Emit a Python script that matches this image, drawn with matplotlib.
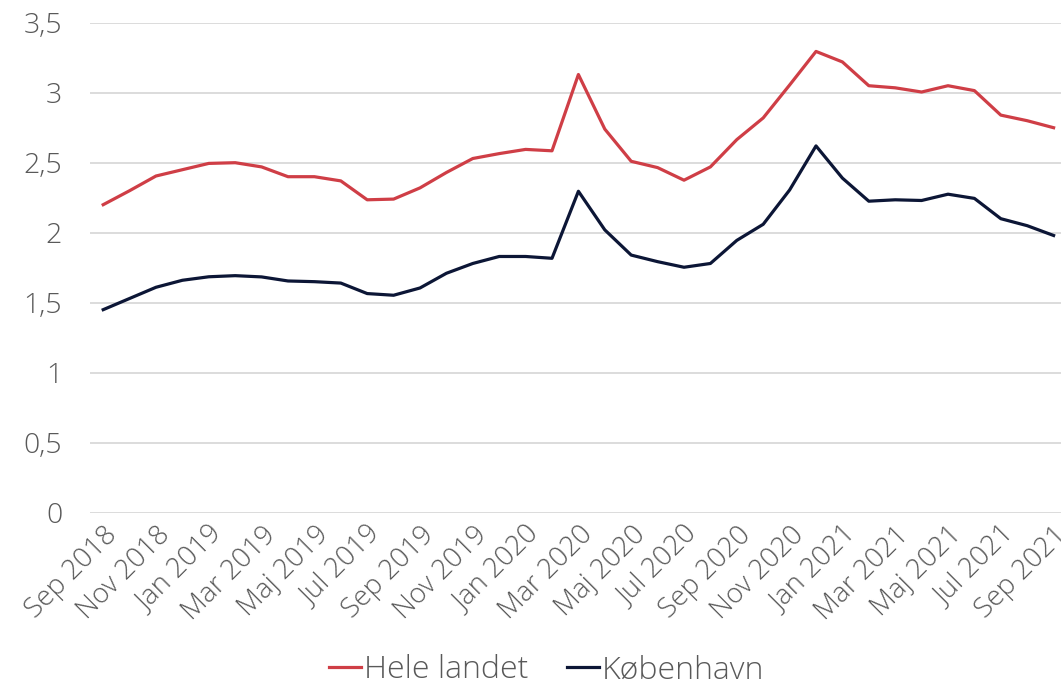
import numpy as np
import matplotlib
matplotlib.use("Agg")
import matplotlib.pyplot as plt

plt.rcParams['font.family'] = ['Open Sans', 'DejaVu Sans']
plt.rcParams['font.weight'] = 'light'

# monthly values, Sep 2018 - Sep 2021
month_names = ["Jan", "Feb", "Mar", "Apr", "Maj", "Jun", "Jul", "Aug", "Sep", "Okt", "Nov", "Dec"]
labels = [f"{month_names[(8 + i) % 12]} {2018 + (8 + i) // 12}" for i in range(37)]

hele_landet = [2.20, 2.30, 2.405, 2.45, 2.495, 2.50, 2.47, 2.40, 2.40, 2.37, 2.235, 2.24,
               2.32, 2.43, 2.53, 2.565, 2.595, 2.585, 3.13, 2.74, 2.51, 2.465, 2.375, 2.47,
               2.665, 2.82, 3.055, 3.295, 3.22, 3.05, 3.035, 3.005, 3.05, 3.015, 2.84, 2.80, 2.75]
koebenhavn = [1.45, 1.53, 1.61, 1.66, 1.685, 1.693, 1.684, 1.655, 1.65, 1.64, 1.565, 1.553,
              1.605, 1.71, 1.78, 1.83, 1.83, 1.817, 2.296, 2.02, 1.84, 1.793, 1.753, 1.78,
              1.945, 2.06, 2.305, 2.62, 2.39, 2.225, 2.235, 2.23, 2.275, 2.245, 2.10, 2.05, 1.98]

x = np.arange(len(labels))
grey = '#595959'

fig = plt.figure(figsize=(10.61, 6.89), dpi=100)
ax = fig.add_axes([90/1061, 0.256, 1 - 90/1061, 0.967 - 0.256])

ax.plot(x, hele_landet, color='#cf3e46', lw=2.3, label='Hele landet')
ax.plot(x, koebenhavn, color='#0c1636', lw=2.3, label='København')

ax.set_ylim(0, 3.5)
ax.set_xlim(-0.5, 36.28)
ax.set_yticks(np.arange(0, 3.51, 0.5))
ax.set_yticklabels(["0", "0,5", "1", "1,5", "2", "2,5", "3", "3,5"])
ax.set_xticks(x[::2])
ax.set_xticklabels(labels[::2], rotation=45, ha='right', rotation_mode='anchor')

ax.grid(axis='y', color='#d9d9d9', lw=1.3)
ax.set_axisbelow(True)
for s in ax.spines.values():
    s.set_visible(False)
ax.tick_params(axis='both', length=0, labelcolor=grey)
ax.tick_params(axis='y', pad=20, labelsize=20.5)
ax.tick_params(axis='x', pad=6, labelsize=20)

fig.legend(loc='lower center', bbox_to_anchor=(0.515, -0.038), ncol=2, frameon=False,
           fontsize=23, handlelength=1.0, handletextpad=0.1, columnspacing=1.2,
           labelcolor=grey)

fig.savefig('out.png', dpi=100)
